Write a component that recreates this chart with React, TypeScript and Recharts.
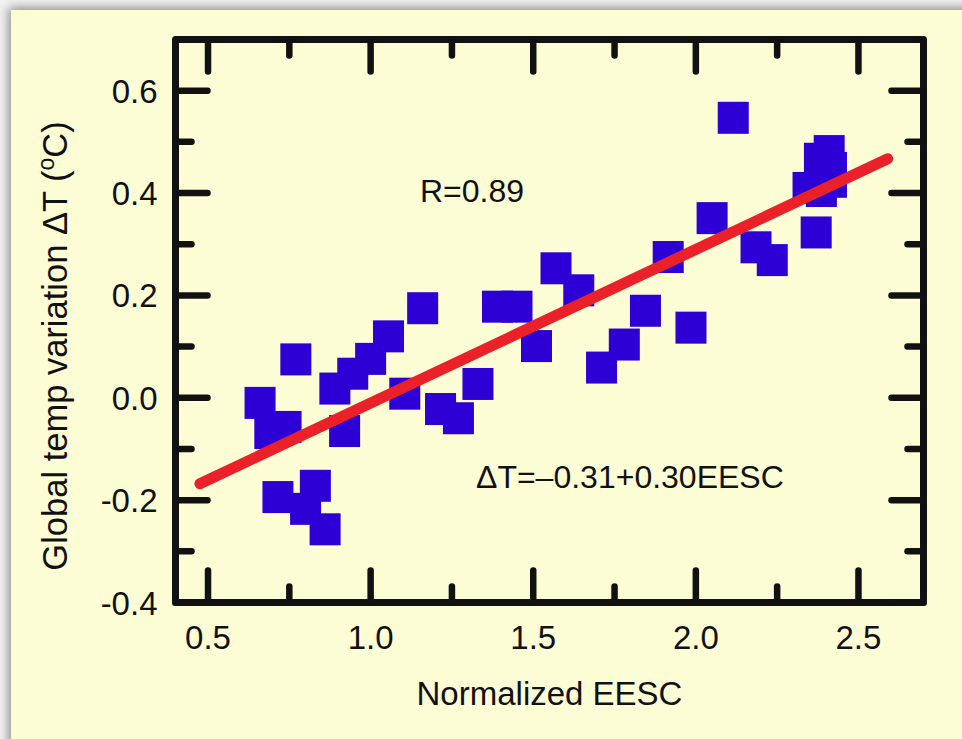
import { ScatterChart, Scatter, XAxis, YAxis, ReferenceArea } from 'recharts';

// normalized EESC vs. global temperature variation (deg C)
const eescValues = [
  0.66, 0.69, 0.715, 0.74, 0.77, 0.8, 0.83, 0.86, 0.89, 0.92,
  0.945, 1.0, 1.055, 1.105, 1.16, 1.215, 1.27, 1.33, 1.39, 1.45,
  1.51, 1.57, 1.64, 1.71, 1.78, 1.845, 1.915, 1.985, 2.05, 2.115,
  2.185, 2.235, 2.37, 2.345, 2.38, 2.41, 2.417, 2.386, 2.417,
];
const tempValues = [
  -0.01, -0.069, -0.194, -0.057, 0.075, -0.217, -0.172, -0.257, 0.018, -0.065,
  0.047, 0.076, 0.12, 0.008, 0.175, -0.022, -0.04, 0.027, 0.178, 0.178,
  0.101, 0.253, 0.21, 0.059, 0.104, 0.17, 0.275, 0.137, 0.351, 0.547,
  0.294, 0.269, 0.323, 0.41, 0.467, 0.482, 0.422, 0.404, 0.449,
];

// regression line end points (dT = -0.31 + 0.30 EESC)
const fitEesc = [0.475, 2.59];
const fitTemp = [-0.168, 0.467];

const xTicks = [0.5, 0.75, 1.0, 1.25, 1.5, 1.75, 2.0, 2.25, 2.5];
const xMajor = [0.5, 1.0, 1.5, 2.0, 2.5];
const yTicks = [-0.4, -0.3, -0.2, -0.1, 0, 0.1, 0.2, 0.3, 0.4, 0.5, 0.6];
const yMajor = [-0.4, -0.2, 0, 0.2, 0.4, 0.6];

const xDomain = [0.4, 2.7];
const yDomain = [-0.4, 0.7];

const points = eescValues.map((x, i) => ({ x, y: tempValues[i] }));
const fitLine = fitEesc.map((x, i) => ({ x, y: fitTemp[i] }));

const FONT = '"Liberation Sans", Arial, Helvetica, sans-serif';
const INK = '#111';
const TICK_W = 6.5;
const MAJOR = 32;
const MINOR = 16;

const isMajor = (list: number[], v: number) => list.some((m) => Math.abs(m - v) < 1e-6);

const BottomTick = ({ x, y, payload }: any) => {
  const major = isMajor(xMajor, payload.value);
  return (
    <g>
      <line x1={x} x2={x} y1={y} y2={y - (major ? MAJOR : MINOR)} stroke={INK} strokeWidth={TICK_W} strokeLinecap="round" />
      {major && (
        <text x={x} y={y + 46} textAnchor="middle" fontSize={33} fontFamily={FONT} fill={INK}>
          {payload.value.toFixed(1)}
        </text>
      )}
    </g>
  );
};

const TopTick = ({ x, y, payload }: any) => {
  const major = isMajor(xMajor, payload.value);
  return (
    <line x1={x} x2={x} y1={y} y2={y + (major ? MAJOR : MINOR)} stroke={INK} strokeWidth={TICK_W} strokeLinecap="round" />
  );
};

const LeftTick = ({ x, y, payload }: any) => {
  const major = isMajor(yMajor, payload.value);
  return (
    <g>
      <line x1={x} x2={x + (major ? MAJOR : MINOR)} y1={y} y2={y} stroke={INK} strokeWidth={TICK_W} strokeLinecap="round" />
      {major && (
        <text x={x - 18} y={y + 12} textAnchor="end" fontSize={33} fontFamily={FONT} fill={INK}>
          {payload.value.toFixed(1)}
        </text>
      )}
    </g>
  );
};

const RightTick = ({ x, y, payload }: any) => {
  const major = isMajor(yMajor, payload.value);
  return (
    <line x1={x} x2={x - (major ? MAJOR : MINOR)} y1={y} y2={y} stroke={INK} strokeWidth={TICK_W} strokeLinecap="round" />
  );
};

const Square = ({ cx, cy }: any) => (
  <rect x={cx - 15.5} y={cy - 16} width={31} height={32} fill="#2d00d5" />
);

const NoDot = () => <g />;

export default function App() {
  return (
    <div style={{ position: 'absolute', left: 0, top: 0, width: 962, height: 739, background: '#f2f2f2', overflow: 'hidden' }}>
      <div
        style={{
          position: 'absolute',
          left: 11,
          top: 10,
          width: 980,
          height: 760,
          background: '#fcfcd5',
          boxShadow: '0 0 10px 2px rgba(0,0,0,0.45)',
        }}
      />
      <div style={{ position: 'absolute', left: 0, top: 0 }}>
        <ScatterChart
          width={962}
          height={739}
          margin={{ top: 19.5, right: 18.5, bottom: 36.5, left: 75.5 }}
        >
          <XAxis
            xAxisId="bottom"
            type="number"
            dataKey="x"
            orientation="bottom"
            domain={xDomain}
            allowDataOverflow
            ticks={xTicks}
            interval={0}
            height={100}
            tickSize={0}
            tickMargin={0}
            axisLine={false}
            tickLine={false}
            tick={<BottomTick />}
          />
          <XAxis
            xAxisId="top"
            type="number"
            dataKey="x"
            orientation="top"
            domain={xDomain}
            allowDataOverflow
            ticks={xTicks}
            interval={0}
            height={20}
            tickSize={0}
            tickMargin={0}
            axisLine={false}
            tickLine={false}
            tick={<TopTick />}
          />
          <YAxis
            yAxisId="left"
            type="number"
            dataKey="y"
            orientation="left"
            domain={yDomain}
            allowDataOverflow
            ticks={yTicks}
            interval={0}
            width={100}
            tickSize={0}
            tickMargin={0}
            axisLine={false}
            tickLine={false}
            tick={<LeftTick />}
          />
          <YAxis
            yAxisId="right"
            type="number"
            dataKey="y"
            orientation="right"
            domain={yDomain}
            allowDataOverflow
            ticks={yTicks}
            interval={0}
            width={20}
            tickSize={0}
            tickMargin={0}
            axisLine={false}
            tickLine={false}
            tick={<RightTick />}
          />
          <Scatter
            xAxisId="bottom"
            yAxisId="left"
            data={points}
            shape={<Square />}
            isAnimationActive={false}
          />
          <Scatter
            xAxisId="top"
            yAxisId="right"
            data={fitLine}
            shape={<NoDot />}
            line={{ stroke: '#ea2128', strokeWidth: 11, strokeLinecap: 'round' }}
            lineType="joint"
            isAnimationActive={false}
          />
          <ReferenceArea
            xAxisId="bottom"
            yAxisId="left"
            x1={xDomain[0]}
            x2={xDomain[1]}
            y1={yDomain[0]}
            y2={yDomain[1]}
            fill="none"
            fillOpacity={0}
            stroke={INK}
            strokeWidth={7}
            strokeOpacity={1}
            strokeLinejoin="round"
            ifOverflow="visible"
          />
        </ScatterChart>
      </div>
      <svg
        width={962}
        height={739}
        style={{ position: 'absolute', left: 0, top: 0, pointerEvents: 'none' }}
        fontFamily={FONT}
        fill={INK}
      >
        <text x={420} y={202} fontSize={32}>R=0.89</text>
        <text x={476} y={488} fontSize={32}>ΔT=–0.31+0.30EESC</text>
        <text x={549.5} y={705} fontSize={33} textAnchor="middle">Normalized EESC</text>
        <text x={0} y={0} fontSize={34.5} textAnchor="middle" transform="translate(67 346) rotate(-90)">
          Global temp variation ΔT (<tspan fontSize={23} dy={-13}>o</tspan><tspan dy={13}>C)</tspan>
        </text>
      </svg>
    </div>
  );
}
